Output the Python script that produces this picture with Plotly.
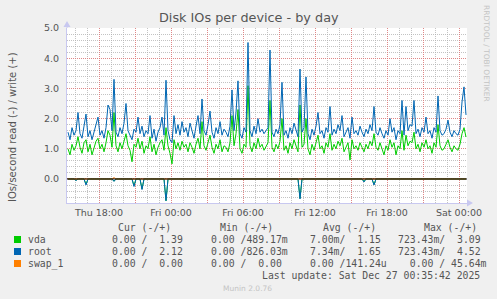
import plotly.graph_objects as go
import pandas as pd

# ---------------- data (10-minute samples, Thu 15:25 -> Sat 00:35) ----------------
times = pd.date_range("2025-12-25 15:25", periods=200, freq="10min")

root_write = [
    1.55, 1.30, 1.70, 1.45, 1.60, 2.20, 1.50, 1.35, 1.75, 2.15,
    1.40, 1.60, 1.30, 1.55, 1.75, 2.05, 1.45, 1.60, 1.35, 1.70,
    2.45, 2.30, 1.60, 3.30, 1.55, 1.40, 1.70, 1.50, 1.85, 2.50,
    1.60, 1.45, 1.30, 1.65, 1.55, 2.05, 1.50, 1.75, 1.40, 1.60,
    1.50, 2.10, 1.35, 1.65, 1.25, 1.55, 1.70, 2.05, 1.45, 3.27,
    1.60, 1.30, 1.20, 2.10, 1.50, 1.80, 1.45, 1.90, 1.55, 1.70,
    1.40, 1.85, 1.60, 1.35, 1.75, 2.10, 1.50, 2.65, 1.60, 1.45,
    1.80, 2.25, 1.55, 1.35, 1.70, 1.50, 1.90, 1.45, 1.65, 1.55,
    1.40, 1.75, 2.95, 1.60, 2.20, 3.25, 1.50, 1.35, 1.70, 1.55,
    4.52, 1.60, 1.40, 1.75, 1.50, 2.00, 1.55, 1.65, 1.50, 1.60,
    1.70, 4.27, 1.55, 1.40, 1.65, 1.50, 1.80, 3.20, 1.45, 1.60,
    1.35, 1.70, 1.50, 1.85, 1.60, 1.40, 3.64, 1.55, 1.70, 3.38,
    1.50, 1.30, 1.65, 1.45, 1.75, 2.20, 1.50, 1.60, 1.35, 1.70,
    1.55, 2.40, 1.45, 1.65, 1.50, 1.80, 1.60, 2.10, 1.40, 1.55,
    1.70, 1.35, 2.05, 1.50, 1.60, 1.45, 1.75, 1.55, 1.40, 1.65,
    1.50, 1.80, 1.60, 2.40, 1.55, 1.45, 1.70, 1.50, 1.35, 1.60,
    1.45, 2.00, 1.55, 1.70, 1.30, 1.60, 1.50, 2.60, 1.45, 2.40,
    1.60, 1.80, 1.75, 2.60, 1.50, 1.65, 1.40, 1.70, 1.55, 2.05,
    1.50, 1.60, 1.35, 1.70, 1.55, 2.75, 1.60, 1.45, 1.50, 1.65,
    1.95, 1.55, 1.40, 1.60, 1.50, 1.45, 1.65, 2.55, 3.05, 2.12,
]

vda_write = [
    1.00, 0.80, 1.15, 0.95, 1.10, 1.40, 1.05, 0.85, 1.20, 1.30,
    0.90, 1.15, 0.80, 1.05, 1.25, 1.35, 1.00, 1.15, 0.90, 1.20,
    1.60, 1.45, 1.05, 2.20, 1.10, 0.90, 1.20, 1.00, 1.30, 1.50,
    1.10, 0.95, 0.57, 1.15, 1.05, 1.35, 1.00, 1.25, 0.85, 1.10,
    1.00, 1.40, 0.90, 1.15, 0.80, 1.05, 1.20, 1.30, 0.95, 1.70,
    1.10, 0.85, 0.50, 1.30, 1.00, 1.20, 0.95, 1.25, 1.05, 1.15,
    0.90, 1.20, 1.05, 0.85, 1.15, 1.35, 1.00, 1.90, 1.10, 0.95,
    1.20, 1.45, 1.05, 0.85, 1.15, 1.00, 1.30, 0.90, 1.10, 1.05,
    0.90, 1.20, 2.10, 1.10, 1.50, 2.30, 1.00, 0.85, 1.15, 1.05,
    3.09, 1.10, 0.90, 1.20, 1.00, 1.35, 1.05, 1.15, 0.95, 1.10,
    1.20, 2.60, 1.05, 0.90, 1.15, 1.00, 1.25, 2.00, 0.95, 1.10,
    0.85, 1.20, 1.00, 1.30, 1.10, 0.90, 2.45, 1.05, 1.15, 2.00,
    1.00, 0.80, 1.15, 0.95, 1.20, 1.45, 1.00, 1.10, 0.85, 1.20,
    1.05, 1.50, 0.95, 1.15, 1.00, 1.25, 1.10, 1.35, 0.90, 1.05,
    1.20, 0.63, 1.30, 1.00, 1.10, 0.95, 1.20, 1.05, 0.90, 1.15,
    1.00, 1.25, 1.10, 1.50, 1.05, 0.95, 1.20, 1.00, 0.80, 1.10,
    0.95, 1.30, 1.05, 1.20, 0.80, 1.10, 1.00, 1.60, 0.95, 1.45,
    1.10, 1.25, 1.20, 1.55, 1.00, 1.15, 0.90, 1.20, 1.05, 1.30,
    1.00, 1.10, 0.85, 1.20, 1.05, 1.80, 1.10, 0.95, 1.00, 1.15,
    1.30, 1.05, 0.90, 1.10, 1.00, 0.95, 1.15, 1.50, 1.70, 1.39,
]

vda_read = [
    0, 0, 0, 0, 0.04, 0, 0, 0, 0, 0.17, 0, 0, 0, 0, 0, 0, 0, 0, 0, 0,
    0, 0, 0, 0.07, 0, 0, 0, 0, 0, 0, 0, 0, 0, 0.22, 0, 0, 0, 0.33, 0, 0,
    0, 0, 0, 0, 0, 0, 0, 0, 0, 0.72, 0, 0, 0, 0, 0, 0, 0, 0, 0, 0,
    0, 0, 0, 0, 0, 0, 0, 0, 0, 0, 0, 0, 0, 0, 0, 0, 0, 0, 0, 0,
    0, 0, 0, 0, 0, 0, 0, 0, 0, 0, 0, 0, 0, 0, 0, 0, 0, 0, 0, 0,
    0, 0, 0, 0, 0, 0, 0, 0, 0, 0, 0, 0, 0, 0, 0, 0, 0.64, 0, 0, 0,
    0, 0, 0, 0, 0, 0, 0, 0, 0, 0, 0, 0, 0, 0, 0, 0, 0, 0, 0, 0,
    0, 0, 0, 0, 0, 0, 0, 0, 0.08, 0, 0, 0, 0, 0.18, 0, 0, 0, 0, 0, 0,
    0, 0, 0, 0, 0, 0, 0, 0, 0, 0, 0, 0, 0, 0, 0, 0, 0, 0, 0, 0,
    0, 0, 0, 0, 0, 0, 0, 0, 0, 0, 0, 0, 0, 0, 0, 0, 0, 0, 0, 0,
]

root_read = [
    0, 0, 0, 0, 0.05, 0, 0, 0, 0, 0.20, 0, 0, 0, 0, 0, 0, 0, 0, 0, 0,
    0, 0, 0, 0.08, 0, 0, 0, 0, 0, 0, 0, 0, 0, 0.25, 0, 0, 0, 0.35, 0, 0,
    0, 0, 0, 0, 0, 0, 0, 0, 0, 0.72, 0, 0, 0, 0, 0, 0, 0, 0, 0, 0,
    0, 0, 0, 0, 0, 0, 0, 0, 0, 0, 0, 0, 0, 0, 0, 0, 0, 0, 0, 0,
    0, 0, 0, 0, 0, 0, 0, 0, 0, 0, 0, 0, 0, 0, 0, 0, 0, 0, 0, 0,
    0, 0, 0, 0, 0, 0, 0, 0, 0, 0, 0, 0, 0, 0, 0, 0, 0.66, 0, 0, 0,
    0, 0, 0, 0, 0, 0, 0, 0, 0, 0, 0, 0, 0, 0, 0, 0, 0, 0, 0, 0,
    0, 0, 0, 0, 0, 0, 0, 0, 0.10, 0, 0, 0, 0, 0.20, 0, 0, 0, 0, 0, 0,
    0, 0, 0, 0, 0, 0, 0, 0, 0, 0, 0, 0, 0, 0, 0, 0, 0, 0, 0, 0,
    0, 0, 0, 0, 0, 0, 0, 0, 0, 0, 0, 0, 0, 0, 0, 0, 0, 0, 0, 0,
]

swap_write = [0] * 23 + [0.046] + [0] * 176

x_tickvals = ["2025-12-25 18:00", "2025-12-25 21:00", "2025-12-26 00:00", "2025-12-26 03:00",
              "2025-12-26 06:00", "2025-12-26 09:00", "2025-12-26 12:00", "2025-12-26 15:00",
              "2025-12-26 18:00", "2025-12-26 21:00", "2025-12-27 00:00"]
x_ticktext = ["Thu 18:00", "", "Fri 00:00", "", "Fri 06:00", "", "Fri 12:00", "",
              "Fri 18:00", "", "Sat 00:00"]
y_tickvals = [0, 1, 2, 3, 4, 5]
y_ticktext = ["0.0", "1.0", "2.0", "3.0", "4.0", "5.0"]

series_names = ["vda", "root", "swap_1"]
series_colors = ["#00CC00", "#0066B3", "#FF8000"]
legend_header = ["Cur (-/+)", "Min (-/+)", "Avg (-/+)", "Max (-/+)"]
legend_rows = [
    ["0.00 /  1.39", "0.00 /489.17m", "7.00m/  1.15", "723.43m/  3.09"],
    ["0.00 /  2.12", "0.00 /826.03m", "7.34m/  1.65", "723.43m/  4.52"],
    ["0.00 /  0.00", "0.00 /  0.00", "0.00 /141.24u", "  0.00 / 45.64m"],
]
title_text = "Disk IOs per device - by day"
ylabel_text = "IOs/second read (-) / write (+)"
last_update = "Last update: Sat Dec 27 00:35:42 2025"
munin_ver = "Munin 2.0.76"
rrd_text = "RRDTOOL / TOBI OETIKER"

# ---------------- geometry helpers (pixels -> paper) ----------------
W, H = 497, 299
L, R, T, B = 67, 467, 28, 203


def px(x):
    return (x - L) / (R - L)


def py(y):
    return (B - y) / (B - T)


fig = go.Figure()
neg_vda = [-v for v in vda_read]
neg_root = [-v for v in root_read]
fig.add_trace(go.Scatter(x=times, y=neg_vda, mode="lines", line=dict(color=series_colors[0], width=1)))
fig.add_trace(go.Scatter(x=times, y=vda_write, mode="lines", line=dict(color=series_colors[0], width=1)))
fig.add_trace(go.Scatter(x=times, y=neg_root, mode="lines", line=dict(color=series_colors[1], width=1)))
fig.add_trace(go.Scatter(x=times, y=root_write, mode="lines", line=dict(color=series_colors[1], width=1)))
fig.add_trace(go.Scatter(x=times, y=swap_write, mode="lines", line=dict(color=series_colors[2], width=1)))

major_grid = "rgba(235,110,110,0.7)"
minor_grid = "rgba(175,175,175,0.75)"
axis_col = "#C8C8F0"
txt_col = "#555555"
dots = "1px,1px"

fig.update_layout(
    width=W, height=H,
    margin=dict(l=L, r=W - R, t=T, b=H - B, pad=0),
    paper_bgcolor="#F0F0F0", plot_bgcolor="#FFFFFF",
    showlegend=False,
    font=dict(family="DejaVu Sans", size=9.5, color=txt_col),
)
fig.update_xaxes(
    type="date", range=["2025-12-25 15:20", "2025-12-27 00:40"],
    tickmode="array", tickvals=x_tickvals, ticktext=x_ticktext,
    showgrid=True, gridcolor=major_grid, griddash=dots, gridwidth=1,
    minor=dict(tickmode="linear", tick0="2025-12-25 00:00", dtick=3600000,
               showgrid=True, gridcolor=minor_grid, griddash=dots, gridwidth=1),
    showline=True, linecolor=axis_col, linewidth=1, zeroline=False,
    ticks="", ticklabelstandoff=1, tickfont=dict(size=9.5, color=txt_col),
)
fig.update_yaxes(
    range=[-0.795, 5.0],
    tickmode="array", tickvals=y_tickvals, ticktext=y_ticktext,
    showgrid=True, gridcolor=major_grid, griddash=dots, gridwidth=1,
    minor=dict(tickmode="linear", tick0=0, dtick=0.2,
               showgrid=True, gridcolor=minor_grid, griddash=dots, gridwidth=1),
    showline=True, linecolor=axis_col, linewidth=1, zeroline=False,
    ticks="", ticklabelstandoff=5, tickfont=dict(size=9.5, color=txt_col),
)

shapes = []
# zero line
shapes.append(dict(type="line", xref="paper", yref="y", x0=0, x1=1, y0=0, y1=0,
                   line=dict(color="#000000", width=1), layer="above"))
# axis arrows
shapes.append(dict(type="line", xref="paper", yref="paper", x0=0, x1=0, y0=1, y1=py(23),
                   line=dict(color=axis_col, width=1)))
shapes.append(dict(type="path", xref="paper", yref="paper",
                   path=f"M {px(63.5)},{py(27)} L {px(70.5)},{py(27)} L {px(67)},{py(21)} Z",
                   fillcolor=axis_col, line=dict(width=0)))
shapes.append(dict(type="line", xref="paper", yref="paper", x0=1, x1=px(471), y0=0, y1=0,
                   line=dict(color=axis_col, width=1)))
shapes.append(dict(type="path", xref="paper", yref="paper",
                   path=f"M {px(467)},{py(199.5)} L {px(467)},{py(206.5)} L {px(473)},{py(203)} Z",
                   fillcolor=axis_col, line=dict(width=0)))

annotations = []
annotations.append(dict(text=title_text, x=px(248.5), y=py(18), xref="paper", yref="paper",
                        xanchor="center", yanchor="middle", showarrow=False,
                        font=dict(family="DejaVu Sans", size=12.8, color=txt_col)))
annotations.append(dict(text=ylabel_text, x=px(12), y=py(127), xref="paper", yref="paper",
                        xanchor="center", yanchor="middle", showarrow=False, textangle=-90,
                        font=dict(family="DejaVu Sans", size=10, color=txt_col)))
annotations.append(dict(text=rrd_text, x=px(487), y=py(53), xref="paper", yref="paper",
                        xanchor="center", yanchor="middle", showarrow=False, textangle=90,
                        font=dict(family="DejaVu Sans", size=7.5, color="#C4C4C4")))

mono = dict(family="DejaVu Sans Mono", size=9.8, color=txt_col)
nb = lambda s: s.replace(" ", "\u00a0")
header_x = [116, 218, 321, 422]
col_x = [110, 209, 308, 396]
row_y = [239.5, 251.5, 263.5]
for hx, h in zip(header_x, legend_header):
    annotations.append(dict(text=nb(h), x=px(hx), y=py(227.3), xref="paper", yref="paper",
                            xanchor="left", yanchor="middle", showarrow=False, font=mono))
for ry, name, col, cells in zip(row_y, series_names, series_colors, legend_rows):
    shapes.append(dict(type="rect", xref="paper", yref="paper",
                       x0=px(14), x1=px(21), y0=py(ry + 3.5), y1=py(ry - 3.5),
                       fillcolor=col, line=dict(width=0)))
    annotations.append(dict(text=nb(name), x=px(26), y=py(ry), xref="paper", yref="paper",
                            xanchor="left", yanchor="middle", showarrow=False, font=mono))
    for cx, c in zip(col_x, cells):
        annotations.append(dict(text=nb(c), x=px(cx), y=py(ry), xref="paper", yref="paper",
                                xanchor="left", yanchor="middle", showarrow=False, font=mono))
annotations.append(dict(text=nb(last_update), x=px(482), y=py(275.5), xref="paper", yref="paper",
                        xanchor="right", yanchor="middle", showarrow=False, font=mono))
annotations.append(dict(text=munin_ver, x=px(247), y=py(288.5), xref="paper", yref="paper",
                        xanchor="center", yanchor="middle", showarrow=False,
                        font=dict(family="DejaVu Sans", size=7.5, color="#C4C4C4")))

fig.update_layout(shapes=shapes, annotations=annotations)
fig.write_html("out.html")
